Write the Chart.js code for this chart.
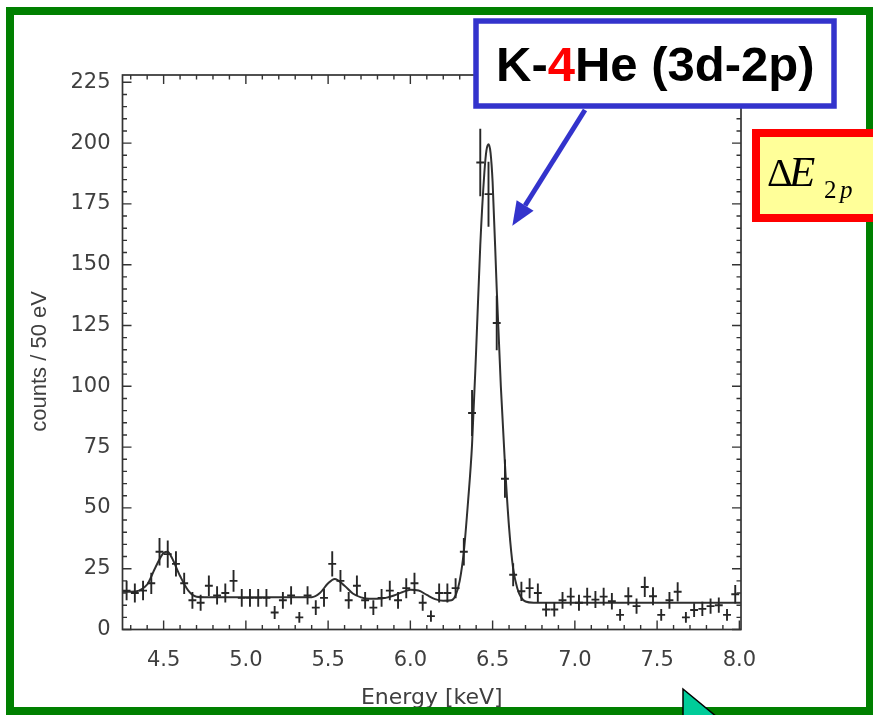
<!DOCTYPE html>
<html><head><meta charset="utf-8">
<script src="https://cdn.jsdelivr.net/npm/chart.js@4.4.1/dist/chart.umd.min.js"></script>
<style>html,body{margin:0;padding:0;background:#fff;overflow:hidden}canvas{display:block}</style>
</head><body>
<canvas id="c" width="873" height="715"></canvas>
<script>
// ---- data ----
const energyKeV = [4.275,4.325,4.375,4.425,4.475,4.525,4.575,4.625,4.675,4.725,
  4.775,4.825,4.875,4.925,4.975,5.025,5.075,5.125,5.175,5.225,
  5.275,5.325,5.375,5.425,5.475,5.525,5.575,5.625,5.675,5.725,
  5.775,5.825,5.875,5.925,5.975,6.025,6.075,6.125,6.175,6.225,
  6.275,6.325,6.375,6.425,6.475,6.525,6.575,6.625,6.675,6.725,
  6.775,6.825,6.875,6.925,6.975,7.025,7.075,7.125,7.175,7.225,
  7.275,7.325,7.375,7.425,7.475,7.525,7.575,7.625,7.675,7.725,
  7.775,7.825,7.875,7.925,7.975];
const countsPer50eV = [16,15,16,19,32,31,27,19,12,11,
  18,14,15,20,13,13,13,13,7,12,
  14,5,14,9,13,27,20,12,18,12,
  9,13,16,12,17,19,11,5.5,15,15,
  17,32,89,192,179,126,62,22.5,15.7,17,
  15,8.2,8.2,12,13.5,11,13.5,12.3,13.5,11.6,
  6,13.7,9.6,17.5,13.7,6,12,15.5,5,8,
  8.5,9.6,10,6,14.5];
const fitEnergyKeV = [4.25,4.30,4.35,4.40,4.45,4.50,4.525,4.55,4.60,4.65,4.70,4.75,5.40,
  5.45,5.50,5.54,5.60,5.65,5.70,5.75,5.80,5.85,5.90,5.95,6.00,6.05,6.10,6.15,6.20,6.25,
  6.275,6.30,6.325,6.35,6.375,6.40,6.425,6.45,6.4625,6.475,6.4875,6.50,6.525,6.55,6.575,
  6.60,6.625,6.65,6.675,6.70,6.75,8.01];
const fitCounts = [15.5,15.5,16,18.5,25.5,31.5,32,29.5,22,16,13.5,13.3,13.3,
  15,19,20.8,18,14.8,13.2,12.6,12.6,13,14,15.3,16.3,16,14.2,12.5,11.8,12,
  14,20,32,52,76,115,158,188,197,199.5,196,184,140,100,68,
  42,25,17,13,11.5,11,11];
const xTickValues = [4.5,5.0,5.5,6.0,6.5,7.0,7.5,8.0];
const yTickValues = [0,25,50,75,100,125,150,175,200,225];
const xRange = [4.25, 8.01];
const yRange = [0, 228];
const xMinorStep = 0.1, yMinorStep = 5;
const binHalfWidth = 0.024;
const xTitle = 'Energy [keV]';
const yTitle = 'counts / 50 eV   ';
const peakLabelParts = ['K-', '4', 'He (3d-2p)'];
const arrowTarget = {x: 6.62, y: 166};

const points = energyKeV.map((e, i) => ({x: e, y: countsPer50eV[i]}));
const fitLine = fitEnergyKeV.map((e, i) => ({x: e, y: fitCounts[i]}));

const INK = '#262626';
const LABEL = '#3f3f3f';

const decor = {
  id: 'decor',
  beforeDraw(chart) {
    const ctx = chart.ctx;
    ctx.save(); ctx.fillStyle = '#fff'; ctx.fillRect(0, 0, chart.width, chart.height); ctx.restore();
  },
  afterDatasetsDraw(chart) {
    const {ctx, chartArea: a, scales: {x, y}} = chart;
    ctx.save();
    // error bars (crosses)
    ctx.strokeStyle = INK; ctx.lineWidth = 1.9;
    ctx.beginPath();
    points.forEach(p => {
      const err = Math.sqrt(p.y);
      const px = x.getPixelForValue(p.x), py = y.getPixelForValue(p.y);
      ctx.moveTo(px, y.getPixelForValue(p.y + err));
      ctx.lineTo(px, y.getPixelForValue(Math.max(0, p.y - err)));
      ctx.moveTo(x.getPixelForValue(p.x - binHalfWidth), py);
      ctx.lineTo(x.getPixelForValue(p.x + binHalfWidth), py);
    });
    ctx.stroke();
    // frame
    ctx.strokeStyle = '#333'; ctx.lineWidth = 1.7;
    ctx.strokeRect(a.left, a.top, a.right - a.left, a.bottom - a.top);
    // inward ticks
    ctx.lineWidth = 1.4;
    ctx.beginPath();
    const isMajor = (v, list) => list.some(t => Math.abs(t - v) < 1e-6);
    for (let k = Math.ceil(xRange[0] / xMinorStep - 1e-9); k * xMinorStep <= xRange[1] + 1e-9; k++) {
      const v = +(k * xMinorStep).toFixed(4);
      const len = isMajor(v, xTickValues) ? 9 : 4.5;
      const px = x.getPixelForValue(v);
      ctx.moveTo(px, a.bottom); ctx.lineTo(px, a.bottom - len);
      ctx.moveTo(px, a.top); ctx.lineTo(px, a.top + len);
    }
    for (let k = Math.ceil(yRange[0] / yMinorStep); k * yMinorStep <= yRange[1]; k++) {
      const v = k * yMinorStep;
      const len = isMajor(v, yTickValues) ? 9 : 4.5;
      const py = y.getPixelForValue(v);
      ctx.moveTo(a.left, py); ctx.lineTo(a.left + len, py);
      ctx.moveTo(a.right, py); ctx.lineTo(a.right - len, py);
    }
    ctx.stroke();
    ctx.restore();
  },
  afterDraw(chart) {
    const {ctx, scales: {x, y}} = chart;
    ctx.save();
    // green slide frame
    ctx.strokeStyle = '#008000'; ctx.lineWidth = 8;
    ctx.strokeRect(10, 11, 860, 700);
    // K-4He label box
    ctx.fillStyle = '#fff';
    ctx.fillRect(476, 21, 358, 85);
    ctx.strokeStyle = '#3333cc'; ctx.lineWidth = 5.5;
    ctx.strokeRect(476, 21, 358, 85);
    ctx.font = 'bold 49px "Liberation Sans", Arial, sans-serif';
    ctx.textBaseline = 'alphabetic'; ctx.textAlign = 'left';
    let tx = 496; const ty = 81;
    const colors = ['#000', '#ff0000', '#000'];
    peakLabelParts.forEach((s, i) => { ctx.fillStyle = colors[i]; ctx.fillText(s, tx, ty); tx += ctx.measureText(s).width; });
    // arrow toward the peak
    const tipX = x.getPixelForValue(arrowTarget.x), tipY = y.getPixelForValue(arrowTarget.y);
    const sx = 585, sy = 110;
    const ang = Math.atan2(tipY - sy, tipX - sx);
    const headLen = 24, headW = 10;
    const bx = tipX - headLen * Math.cos(ang), by = tipY - headLen * Math.sin(ang);
    ctx.strokeStyle = '#3333cc'; ctx.fillStyle = '#3333cc'; ctx.lineWidth = 5;
    ctx.beginPath(); ctx.moveTo(sx, sy); ctx.lineTo(bx, by); ctx.stroke();
    ctx.beginPath();
    ctx.moveTo(tipX, tipY);
    ctx.lineTo(bx + headW * Math.sin(ang), by - headW * Math.cos(ang));
    ctx.lineTo(bx - headW * Math.sin(ang), by + headW * Math.cos(ang));
    ctx.closePath(); ctx.fill();
    // Delta E_2p box
    ctx.fillStyle = '#ffff99';
    ctx.fillRect(756, 133, 130, 85);
    ctx.strokeStyle = '#ff0000'; ctx.lineWidth = 8;
    ctx.strokeRect(756, 133, 130, 85);
    ctx.fillStyle = '#000';
    ctx.font = '40px "Liberation Serif", "Times New Roman", serif';
    ctx.fillText('\u0394', 767, 186);
    ctx.font = 'italic 43px "Liberation Serif", "Times New Roman", serif';
    ctx.fillText('E', 789, 186);
    ctx.font = '25px "Liberation Serif", "Times New Roman", serif';
    ctx.fillText('2', 824, 198);
    ctx.font = 'italic 25px "Liberation Serif", "Times New Roman", serif';
    ctx.fillText('p', 840, 198);
    // teal triangle at bottom
    ctx.fillStyle = '#00cc99'; ctx.strokeStyle = '#000'; ctx.lineWidth = 1.5;
    ctx.beginPath(); ctx.moveTo(683, 689); ctx.lineTo(683, 722); ctx.lineTo(723, 722); ctx.closePath();
    ctx.fill(); ctx.stroke();
    ctx.restore();
  }
};

new Chart(document.getElementById('c'), {
  type: 'scatter',
  data: {
    datasets: [
      {label: 'data', data: points, pointRadius: 0, showLine: false},
      {label: 'fit', type: 'line', data: fitLine, pointRadius: 0, borderColor: '#303030', borderWidth: 2,
       cubicInterpolationMode: 'monotone', fill: false}
    ]
  },
  options: {
    responsive: false, animation: false, devicePixelRatio: 1,
    layout: {padding: {top: 75, right: 132, left: 0, bottom: 0}},
    plugins: {legend: {display: false}, tooltip: {enabled: false}},
    scales: {
      x: {
        type: 'linear', min: xRange[0], max: xRange[1],
        grid: {display: false, drawTicks: false}, border: {display: false},
        afterBuildTicks: s => { s.ticks = xTickValues.map(v => ({value: v})); },
        afterFit: s => { s.height = 85.5; },
        ticks: {color: LABEL, padding: 18, font: {family: '"DejaVu Sans", sans-serif', size: 21},
                callback: v => Number(v).toFixed(1), maxRotation: 0, autoSkip: false},
        title: {display: true, text: xTitle, color: LABEL, padding: {top: 4, bottom: 4},
                font: {family: '"DejaVu Sans", sans-serif', size: 22}}
      },
      y: {
        min: yRange[0], max: yRange[1],
        grid: {display: false, drawTicks: false}, border: {display: false},
        afterBuildTicks: s => { s.ticks = yTickValues.map(v => ({value: v})); },
        afterFit: s => { s.width = 122.5; },
        ticks: {color: LABEL, padding: 12, font: {family: '"DejaVu Sans", sans-serif', size: 21}, autoSkip: false},
        title: {display: true, text: yTitle, color: LABEL, padding: {top: 27, bottom: 0},
                font: {family: '"Liberation Sans", Arial, sans-serif', size: 22}}
      }
    }
  },
  plugins: [decor]
});
</script>
</body></html>
